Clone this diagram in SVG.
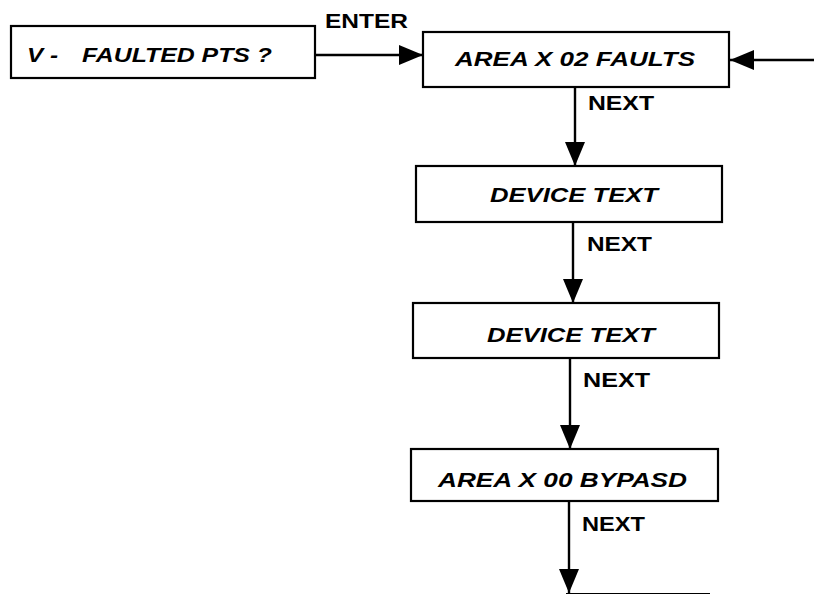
<svg xmlns="http://www.w3.org/2000/svg" width="814" height="594" viewBox="0 0 814 594">
<defs>
<marker id="ah" markerUnits="userSpaceOnUse" markerWidth="24" markerHeight="20" refX="24" refY="10" orient="auto">
<path d="M0,0 L24,10 L0,20 Z" fill="#000"/>
</marker>
<style>
.box{fill:#fff;stroke:#000;stroke-width:2.2}
.ln{fill:none;stroke:#000;stroke-width:2.4}
.bt{font-family:"Liberation Sans",Arial,sans-serif;font-weight:bold;font-style:italic;font-size:21px;fill:#000}
.lb{font-family:"Liberation Sans",Arial,sans-serif;font-weight:bold;font-size:21px;fill:#000}
</style>
</defs>
<rect width="814" height="594" fill="#fff"/>
<g id="connectors">
<line class="ln" x1="315" y1="55" x2="423" y2="55" marker-end="url(#ah)"/>
<line class="ln" x1="814" y1="60" x2="730" y2="60" marker-end="url(#ah)"/>
<line class="ln" x1="575" y1="87" x2="575" y2="166" marker-end="url(#ah)"/>
<line class="ln" x1="573" y1="222" x2="573" y2="303" marker-end="url(#ah)"/>
<line class="ln" x1="570" y1="358" x2="570" y2="449" marker-end="url(#ah)"/>
<line class="ln" x1="569" y1="501" x2="569" y2="593" marker-end="url(#ah)"/>
<line x1="566" y1="593.5" x2="710" y2="593.5" stroke="#000" stroke-width="1.2"/>
<text class="lb" x="325" y="28" textLength="83" lengthAdjust="spacingAndGlyphs">ENTER</text>
<text class="lb" x="588" y="110" textLength="66" lengthAdjust="spacingAndGlyphs">NEXT</text>
<text class="lb" x="587" y="251" textLength="65" lengthAdjust="spacingAndGlyphs">NEXT</text>
<text class="lb" x="583" y="387" textLength="67" lengthAdjust="spacingAndGlyphs">NEXT</text>
<text class="lb" x="582" y="531" textLength="63" lengthAdjust="spacingAndGlyphs">NEXT</text>
</g>
<g id="n1">
<rect class="box" x="11" y="26" width="304" height="52"/>
<text class="bt" x="27" y="62" textLength="31" lengthAdjust="spacingAndGlyphs">V -</text>
<text class="bt" x="82" y="62" textLength="190" lengthAdjust="spacingAndGlyphs">FAULTED PTS ?</text>
</g>
<g id="n2">
<rect class="box" x="423" y="32" width="306" height="55"/>
<text class="bt" x="455" y="66" textLength="240" lengthAdjust="spacingAndGlyphs">AREA X 02 FAULTS</text>
</g>
<g id="n3">
<rect class="box" x="416" y="166" width="306" height="56"/>
<text class="bt" x="490" y="202" textLength="168" lengthAdjust="spacingAndGlyphs">DEVICE TEXT</text>
</g>
<g id="n4">
<rect class="box" x="413" y="303" width="306" height="55"/>
<text class="bt" x="487" y="342" textLength="168" lengthAdjust="spacingAndGlyphs">DEVICE TEXT</text>
</g>
<g id="n5">
<rect class="box" x="411" y="449" width="307" height="52"/>
<text class="bt" x="438" y="487" textLength="249" lengthAdjust="spacingAndGlyphs">AREA X 00 BYPASD</text>
</g>
</svg>
